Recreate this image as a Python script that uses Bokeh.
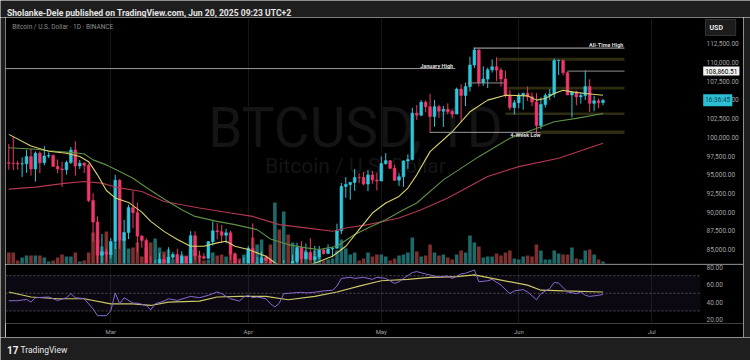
import numpy as np
import pandas as pd
from bokeh.plotting import figure
from bokeh.layouts import column, row
from bokeh.models import (Range1d, LinearAxis, FixedTicker, MonthsTicker, NumeralTickFormatter,
                          DatetimeTickFormatter, Label, Span, BoxAnnotation, ColumnDataSource, Grid)
from bokeh.embed import file_html
from bokeh.resources import INLINE
from bokeh.core.properties import value

# ---------------- data ----------------
FIRST_DAY = "2025-02-06"
opens = [96612, 96554, 96506, 96444, 96462, 97430, 95778, 97869, 96608, 97500, 97569, 96118, 95780, 95671, 96644, 98306, 96181, 96551, 96258, 91552, 88680, 84250, 84709,
         84350, 86064, 94270, 86221, 87281, 90606, 89931, 86801, 86222, 80735, 78600, 82932, 83680, 81067, 83969, 84344, 82579, 84075, 82719, 86855, 84167, 84043, 83832, 86054, 87498, 87392, 86909, 87232, 84424, 82648, 82390,
         82550, 85159, 82516, 83214, 83890, 83537, 78430, 79164, 76322, 82615, 79607, 83423, 85276, 83760, 84591, 83643, 84030, 84947, 84474, 85077, 85179, 87516, 93442, 93691, 93980, 94638, 94628, 93750, 94979, 94284,
         94172, 96489, 96887, 95856, 94277, 94733, 96834, 97032, 103241, 102971, 104697, 104107, 102791, 104103, 103508, 103763, 103463, 103127, 106455, 105607, 106792, 109677, 111674, 107288, 107792, 109035, 109440, 108994, 107802, 105641, 103998,
         104638, 105652, 105882, 105432, 104732, 101575, 104391, 105615, 105793, 110263, 110275, 108645, 105671, 106066, 105414, 105594, 106794, 104551, 104886, 104658]
highs = [99120, 100137, 96880, 97323, 98345, 98478, 98119, 98116, 98826, 97972, 97732, 97046, 96753, 96899, 98711, 99475, 96980, 96650, 96500, 92540, 89414, 87078, 85120,
         86558, 95000, 94416, 88967, 90998, 92810, 91283, 86897, 86500, 84123, 83617, 84539, 84336, 85310, 84672, 85117, 84756, 84075, 87453, 87443, 84850, 84513, 86129, 88765, 88542, 88292, 87786, 87515, 84624, 83534, 83943,
         85487, 88500, 83998, 84720, 84266, 83817, 81243, 80867, 83588, 82753, 84300, 85905, 86100, 85800, 86496, 85500, 85470, 85132, 85677, 85320, 88460, 93888, 94696, 94000, 95758, 95199, 95369, 95630, 95500, 95250,
         97437, 97895, 96935, 96304, 95199, 96920, 97732, 103969, 104324, 104984, 104938, 105819, 104976, 104356, 104192, 104550, 103709, 106660, 107108, 107320, 110797, 111980, 111800, 109500, 109314, 110422, 110718, 109313, 108910, 106313, 104999,
         105919, 105970, 106794, 106000, 105909, 105333, 105900, 106488, 110530, 110400, 110392, 108813, 106179, 106252, 105980, 108952, 107771, 105572, 105200, 105100]
lows = [95676, 95620, 95688, 94713, 95256, 94876, 94088, 95217, 96253, 97223, 96101, 95205, 93388, 95029, 96415, 94871, 95770, 95228, 91350, 86050, 82256, 82716, 78258,
        83824, 85050, 85117, 81390, 86380, 87836, 84667, 85248, 80000, 77459, 76606, 80607, 79940, 80911, 83639, 82016, 82457, 81180, 82600, 83647, 83175, 83675, 83800, 85541, 86346, 85862, 85837, 83585, 81644, 81565, 81278,
        82429, 82320, 81211, 81659, 82379, 77153, 74508, 76239, 74620, 78464, 78936, 82792, 83034, 83678, 83600, 83111, 83736, 84303, 84424, 83949, 85143, 87076, 91935, 91660, 92855, 93870, 93602, 92800, 93795, 92910,
        94136, 96350, 95753, 94151, 93514, 93377, 95784, 96914, 102333, 102818, 103345, 100719, 101429, 102602, 101383, 103100, 102612, 103105, 102000, 104184, 106123, 109285, 106800, 106900, 106600, 108670, 107516, 106800, 105322, 103621, 103068,
        103870, 103703, 104872, 104200, 100372, 101095, 103986, 104964, 105318, 108331, 108310, 105671, 102664, 104300, 104503, 104980, 103400, 103500, 103900, 104300]
closes = [96554, 96506, 96444, 96462, 97430, 95778, 97869, 96608, 97500, 97569, 96118, 95780, 95671, 96644, 98306, 96181, 96551, 96258, 91552, 88680, 84250, 84709, 84350,
          86064, 94270, 86221, 87281, 90606, 89931, 86801, 86222, 80735, 78600, 82932, 83680, 81067, 83969, 84344, 82579, 84075, 82719, 86855, 84167, 84043, 83832, 86054, 87498, 87392, 86909, 87232, 84424, 82648, 82390, 82550,
          85159, 82516, 83214, 83890, 83537, 78430, 79164, 76322, 82615, 79607, 83423, 85276, 83760, 84591, 83643, 84030, 84947, 84474, 85077, 85179, 87516, 93442, 93691, 93980, 94638, 94628, 93750, 94979, 94284, 94172,
          96489, 96887, 95856, 94277, 94733, 96834, 97032, 103241, 102971, 104697, 104107, 102791, 104103, 103508, 103763, 103463, 103127, 106455, 105607, 106792, 109677, 111674, 107288, 107792, 109035, 109440, 108994, 107802, 105641, 103998, 104638,
          105652, 105882, 105432, 104732, 101575, 104391, 105615, 105793, 110263, 110275, 108645, 105671, 106066, 105414, 105594, 106794, 104551, 104886, 104658, 104950]
volumes_k = [12, 12, 4, 7, 9, 9, 9, 9, 7, 3, 4, 7, 10, 8, 8, 12, 3, 4, 12, 32, 25, 18, 33,
             12, 22, 24, 26, 16, 17, 22, 8, 16, 22, 26, 17, 13, 15, 5, 8, 10, 9, 15, 14, 8, 4, 5, 12, 9, 10, 8, 12, 8, 6, 10,
             12, 27, 20, 25, 8, 20, 62, 35, 53, 30, 22, 14, 16, 14, 12, 14, 9, 4, 5, 6, 14, 25, 16, 10, 12, 4, 6, 12, 8, 10,
             10, 8, 4, 6, 9, 10, 12, 27, 13, 8, 9, 20, 12, 9, 10, 7, 5, 10, 14, 12, 29, 22, 18, 7, 8, 8, 11, 9, 12, 14, 6,
             5, 8, 9, 8, 20, 14, 5, 5, 14, 11, 10, 10, 17, 6, 5, 14, 15, 10, 5, 3]

# moving averages sampled off the chart (day offsets from 1 Mar 2025)
ma_fast_day = [-23, -18, -14, -10, -7, -5, -3, -1, 1, 4, 7, 9, 12, 15, 18, 21, 24, 26, 28, 31, 35, 37, 40, 43, 46, 50, 53, 56, 59, 62, 65, 67, 69, 72, 77, 81, 85, 89, 94, 96, 98, 100, 102, 104, 107, 111]
ma_fast = [100400, 98850, 98150, 97880, 97450, 96750, 94990, 92900, 91900, 91300, 90000, 88770, 87430, 86330, 85440, 85440, 85890, 86100, 85440, 85000, 84100, 83230, 82300, 82600, 83150, 84100, 85440, 87660, 89880, 91220, 92100, 93220, 94990, 98090, 100750, 103420, 104980, 105640, 105550, 104980, 105200, 105870, 106310, 106080, 105870, 105640]
ma_mid_day = [-23, -17, -14, -8, -6, -4, -1, 2, 5, 8, 12, 16, 19, 24, 28, 33, 36, 40, 44, 47, 51, 55, 58, 62, 66, 69, 75, 83, 90, 94, 97, 100, 105, 111]
ma_mid = [98620, 98410, 98220, 97950, 97780, 96990, 96320, 95430, 94540, 93300, 91750, 90320, 89430, 88770, 88330, 87660, 86400, 85660, 85220, 85000, 85440, 87000, 87890, 88990, 90320, 91220, 94320, 97420, 99880, 100750, 101420, 102090, 102540, 103200]
ma_slow_day = [-23, -17, -10, -6, -2, 1, 7, 12, 20, 27, 32, 38, 44, 50, 53, 58, 65, 70, 76, 85, 92, 101, 111]
ma_slow = [93080, 93350, 93880, 94100, 93880, 93350, 92760, 91430, 90550, 89890, 89430, 88330, 87890, 87440, 87890, 88330, 89220, 90320, 91880, 94760, 96090, 97210, 99210]

# RSI pane
rsi_day = [-23, -21, -19, -18, -17, -14, -12, -10, -9, -8, -6, -4, -3, -1, 0, 1, 2, 3, 5, 6, 8, 9, 10, 12, 13, 15, 17, 18, 20, 22, 24, 25, 27, 29, 30, 31, 32, 33, 35, 36, 37, 38, 39, 41, 43, 44, 46, 48, 50, 51, 52, 54, 55, 57, 59, 60, 62, 64, 65, 66, 68, 69, 71, 73, 74, 76, 77, 79, 80, 82, 83, 85, 86, 88, 90, 91, 93, 94, 96, 97, 99, 100, 101, 103, 105, 106, 107, 108, 110, 111]
rsi_val = [41.6, 41.6, 43.1, 40.0, 45.0, 45.8, 41.9, 45.0, 49.6, 45.0, 43.8, 32.3, 24.6, 24.6, 30.4, 50.4, 38.1, 45.0, 38.8, 38.8, 36.2, 31.2, 38.1, 41.2, 43.8, 41.9, 45.0, 46.5, 45.0, 47.7, 51.5, 49.6, 43.8, 41.2, 45.8, 47.7, 45.0, 45.8, 43.8, 38.1, 34.6, 38.8, 49.6, 50.4, 51.2, 50.4, 51.2, 52.7, 53.5, 58.1, 66.9, 68.1, 66.9, 68.1, 65.8, 68.1, 66.9, 61.2, 63.1, 66.9, 73.5, 74.6, 71.9, 69.6, 68.8, 69.6, 66.9, 71.9, 72.7, 76.5, 63.1, 64.2, 65.8, 59.2, 49.6, 52.7, 54.2, 51.5, 42.7, 49.6, 55.4, 62.3, 61.5, 51.5, 49.6, 51.5, 47.7, 46.5, 47.7, 48.8]
rsi_ma_day = [-23, -18, -12, -6, 0, 5, 9, 13, 20, 24, 29, 35, 40, 46, 51, 56, 61, 67, 72, 78, 82, 88, 94, 97, 102, 111]
rsi_ma = [51.5, 45.8, 43.8, 43.8, 38.1, 38.1, 36.2, 40.0, 41.2, 45.8, 46.5, 46.5, 42.7, 46.5, 51.5, 58.1, 64.2, 65.8, 68.1, 68.8, 70.8, 65.0, 59.2, 53.5, 52.7, 51.5]
rsi_levels = [70, 50, 30]

# drawings (levels in USD, start/end as day offsets from 1 Mar 2025)
level_names = ["All-Time High", "January High", "Jun 16 High", "May 23 Close", "4-Week Low"]
level_price = [111940, 109200, 108860.51, 107280, 100670]
level_d0 = [81.8, -30.0, 103.0, 80.5, 71.9]
level_d1 = [115.85, 77.7, 115.85, 88.6, 96.9]
zone_d0 = [87.2, 89.5, 89.0, 96.9]
zone_d1 = [115.85, 115.85, 115.85, 115.85]
zone_low = [110236, 106400, 102977, 100446]
zone_high = [110636, 106773, 103336, 100912]

price_ticks = [85000, 87500, 90000, 92500, 95000, 97500, 100000, 102500, 105000, 107500, 110000, 112500]
rsi_ticks = [20, 40, 60, 80]

# ---------------- helpers ----------------
DAY_MS = 86400000.0
EPOCH = pd.Timestamp("1970-01-01")
MAR1_MS = (pd.Timestamp("2025-03-01") - EPOCH) / pd.Timedelta(milliseconds=1)

def dms(d):
    return MAR1_MS + np.asarray(d, dtype=float) * DAY_MS

dates = pd.date_range(FIRST_DAY, periods=len(closes), freq="D")
xms = ((dates - EPOCH) / pd.Timedelta(milliseconds=1)).values.astype(float)

UP, DN = "#2ec7dc", "#f0386b"
VUP, VDN = "#1d6a6b", "#7e302f"
o = np.array(opens, float); c = np.array(closes, float)
up = c >= o
src = ColumnDataSource(dict(
    x=xms, high=highs, low=lows,
    top=np.maximum(o, c), bottom=np.minimum(o, c),
    col=[UP if u else DN for u in up],
    vcol=[VUP if u else VDN for u in up],
    vol=volumes_k))

FONT = "Roboto"
AXC = "#a3a3a3"
BG = "#000000"
PANEL = "#1e1e1e"

FW = 738                 # chart frame incl. price-scale column
X_START, X_SCALE, X_END = -23.75, 133.0, 142.69   # day offsets: left edge, scale column, right edge
xr = Range1d(dms(X_START), dms(X_END))

def blank(w, h):
    f = figure(width=w, height=h, x_range=Range1d(0, 1), y_range=Range1d(0, 1),
               output_backend="svg", toolbar_location=None, min_border=0,
               x_axis_location=None, y_axis_location=None,
               background_fill_color=PANEL, border_fill_color=PANEL, outline_line_color=None)
    f.grid.visible = False
    return f

def scale_axis(ticks, fmt):
    return LinearAxis(ticker=FixedTicker(ticks=ticks), formatter=NumeralTickFormatter(format=fmt),
                      fixed_location=float(dms(X_SCALE)),
                      axis_line_color=None, major_tick_line_color=None, minor_tick_line_color=None,
                      major_tick_in=0, major_tick_out=0, minor_tick_in=0, minor_tick_out=0,
                      major_label_standoff=6, major_label_text_color=AXC, major_label_text_font=FONT,
                      major_label_text_font_size="6.5px")

# ---------------- header ----------------
head = blank(750, 17)
head.add_layout(Label(x=6.5, y=4.5, x_units="screen", y_units="screen",
                      text="Sholanke-Dele published on TradingView.com, Jun 20, 2025 09:23 UTC+2",
                      text_font=FONT, text_font_size="8.6px", text_font_style="bold",
                      text_color="#e4e4e4", text_baseline="alphabetic"))

# ---------------- price pane ----------------
main = figure(frame_width=FW, frame_height=247, x_range=xr, y_range=Range1d(82998, 116030),
              x_axis_type="datetime", x_axis_location=None, y_axis_location=None,
              output_backend="svg", toolbar_location=None, min_border=0,
              background_fill_color=BG, border_fill_color=BG, outline_line_color=None)
main.grid.visible = False
main.add_layout(Grid(dimension=0, ticker=MonthsTicker(months=list(range(12))),
                     grid_line_color="#161616", grid_line_width=1))
main.add_layout(scale_axis(price_ticks, "0,0.00"), "right")

# watermark
main.add_layout(Label(x=350, y=137, x_units="screen", y_units="screen", text="BTCUSD, 1D",
                      text_align="center", text_baseline="middle", text_font=FONT,
                      text_font_size="55px", text_color="#141414", level="underlay"))
main.add_layout(Label(x=350, y=99, x_units="screen", y_units="screen", text="Bitcoin / U.S. Dollar",
                      text_align="center", text_baseline="middle", text_font=FONT,
                      text_font_size="21px", text_color="#141414", level="underlay"))
main.add_layout(Label(x=6.7, y=237.7, x_units="screen", y_units="screen",
                      text="Bitcoin / U.S. Dollar · 1D · BINANCE", text_baseline="middle",
                      text_font=FONT, text_font_size="6.5px", text_color="#8c8c8c"))

# zones
main.quad(left=dms(zone_d0), right=dms(zone_d1), bottom=zone_low, top=zone_high,
          fill_color="#2e2d12", line_color=None)

# volume
main.extra_y_ranges = {"vol": Range1d(0, 247)}
main.vbar(x="x", top="vol", bottom=0, width=0.8 * DAY_MS, fill_color="vcol", line_color=None,
          y_range_name="vol", source=src)

# candles
main.segment(x0="x", y0="low", x1="x", y1="high", line_color="col", line_width=1, source=src)
main.vbar(x="x", top="top", bottom="bottom", width=0.62 * DAY_MS, fill_color="col",
          line_color="col", line_width=0.6, source=src)

# moving averages
main.line(dms(ma_slow_day), ma_slow, line_color="#b3384f", line_width=1.1)
main.line(dms(ma_mid_day), ma_mid, line_color="#5f9146", line_width=1.1)
main.line(dms(ma_fast_day), ma_fast, line_color="#d9d26d", line_width=1.1)

# horizontal drawings
main.segment(x0=dms(level_d0), y0=level_price, x1=dms(level_d1), y1=level_price,
             line_color=["#b8b8b8", "#9a9a9a", "#8e8e8e", "#8e8e8e", "#9a9a9a"], line_width=1)
tk = dict(text_font=value(FONT), text_font_size="5.5px", text_font_style="bold", text_color="#dedede")
main.text(x=[dms(115.6)], y=[level_price[0]], text=["All-Time High"], text_align="right",
          text_baseline="bottom", **tk)
main.text(x=[dms(77.2)], y=[level_price[1]], text=["January High"], text_align="right",
          text_baseline="bottom", **tk)
main.text(x=[dms(93.5)], y=[level_price[4]], text=["4-Week Low"], text_align="center",
          text_baseline="top", **tk)

main.add_layout(Span(location=82998, dimension="width", line_color="#2c2c2c", line_width=2))

# price-scale badges
main.add_layout(Label(x=700, y=237, x_units="screen", y_units="screen", text="USD     ",
                      text_baseline="middle", text_font=FONT, text_font_size="7px",
                      text_font_style="bold", text_color="#e8e8e8",
                      background_fill_color="#1c1c1c", border_line_color="#333333",
                      padding=4, level="overlay"))
main.add_layout(Label(x=697.7, y=level_price[2], x_units="screen", text="108,860.51",
                      text_baseline="middle", text_font=FONT, text_font_size="6.5px",
                      text_color="#000000", background_fill_color="#f2f2f2",
                      padding=2, level="overlay"))
main.add_layout(Label(x=697.7, y=closes[-1], x_units="screen", text="16:36:45",
                      text_baseline="middle", text_font=FONT, text_font_size="6.5px",
                      text_color="#0b4853", background_fill_color="#2bbfd3",
                      padding=2, level="overlay"))

# ---------------- RSI pane ----------------
rsi = figure(frame_width=FW, frame_height=59, x_range=xr, y_range=Range1d(15.76, 82.65),
             x_axis_type="datetime", x_axis_location="below", y_axis_location=None,
             output_backend="svg", toolbar_location=None,
             min_border_left=0, min_border_right=0, min_border_top=0, min_border_bottom=14,
             background_fill_color=BG, border_fill_color=BG, outline_line_color=None)
rsi.grid.visible = False
rsi.add_layout(Grid(dimension=0, ticker=MonthsTicker(months=list(range(12))),
                    grid_line_color="#161616", grid_line_width=1))
ax = rsi.xaxis[0]
ax.ticker = MonthsTicker(months=list(range(12)))
ax.formatter = DatetimeTickFormatter(months="%b", days="%b")
ax.axis_line_color = None
ax.major_tick_line_color = None
ax.minor_tick_line_color = None
ax.major_tick_out = 0
ax.major_tick_in = 0
ax.minor_tick_out = 0
ax.major_label_standoff = 4
ax.major_label_text_color = AXC
ax.major_label_text_font = FONT
ax.major_label_text_font_size = "6px"
rsi.add_layout(scale_axis(rsi_ticks, "0.00"), "right")

rsi.add_layout(BoxAnnotation(bottom=30, top=70, right=float(dms(X_SCALE)), fill_color="#7e57c2",
                             fill_alpha=0.09, line_color=None))
rsi.segment(x0=[dms(X_START)] * 3, x1=[dms(X_SCALE)] * 3, y0=rsi_levels, y1=rsi_levels,
            line_color="#4c4c4c", line_dash="2 2", line_width=1)
rsi.line(dms(rsi_ma_day), rsi_ma, line_color="#d4d35e", line_width=1.2)
rsi.line(dms(rsi_day), rsi_val, line_color="#8d6bd3", line_width=1)

# ---------------- side strips & footer ----------------
lpad = blank(5, 320)
rpad = blank(7, 320)

foot = blank(750, 23)
foot.add_layout(Label(x=6.5, y=10.7, x_units="screen", y_units="screen", text="17",
                      text_font=FONT, text_font_size="10px", text_font_style="bold",
                      text_color="#f0f0f0", text_baseline="middle"))
foot.add_layout(Label(x=20, y=10.7, x_units="screen", y_units="screen", text="TradingView",
                      text_font=FONT, text_font_size="8.5px", text_color="#e8e8e8",
                      text_baseline="middle"))

layout = column(head, row(lpad, column(main, rsi, spacing=0), rpad, spacing=0), foot, spacing=0)
open("out.html", "w").write(file_html(layout, INLINE))
